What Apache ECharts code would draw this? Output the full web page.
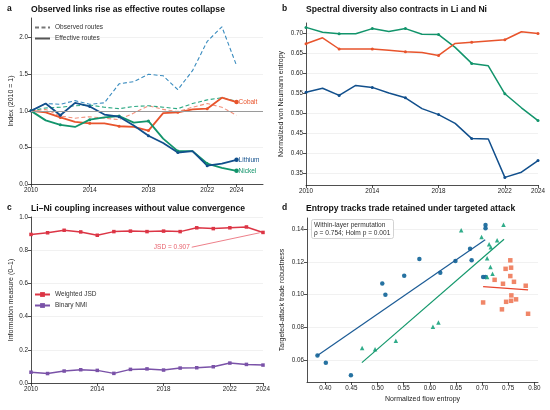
<!DOCTYPE html>
<html>
<head>
<meta charset="utf-8">
<script src="https://cdn.jsdelivr.net/npm/echarts@6/dist/echarts.min.js"></script>
<style>
  html, body { margin: 0; padding: 0; background: #fff; }
  #chart { width: 550px; height: 410px; }
</style>
</head>
<body>
<div id="chart"></div>
<script>
// years shared by panels a, b, c
const years = [2010, 2011, 2012, 2013, 2014, 2015, 2016, 2017, 2018, 2019, 2020, 2021, 2022, 2023, 2024];
const yearTicks = [2010, 2014, 2018, 2022, 2024];

// panel a: index (2010 = 1)
const obsLithium = [1.00, 1.10, 1.09, 1.14, 1.09, 1.11, 1.37, 1.40, 1.50, 1.48, 1.29, 1.55, 1.95, 2.15, 1.62];
const obsNickel  = [1.00, 1.04, 1.05, 1.07, 1.08, 1.05, 1.03, 1.06, 1.07, 1.05, 1.03, 1.10, 1.15, 1.18, 1.13];
const obsCobalt  = [1.00, 1.02, 0.93, 0.90, 0.92, 0.90, 0.88, 0.97, 1.07, 1.02, 0.99, 1.05, 1.10, 1.05, 0.94];
const effLithium = [1.00, 1.10, 0.94, 1.11, 1.06, 0.95, 0.92, 0.80, 0.66, 0.56, 0.43, 0.45, 0.25, 0.28, 0.33];
const effNickel  = [1.00, 0.87, 0.81, 0.78, 0.88, 0.91, 0.93, 0.84, 0.86, 0.62, 0.45, 0.45, 0.28, 0.22, 0.18];
const effCobalt  = [1.00, 0.98, 0.91, 0.85, 0.83, 0.83, 0.79, 0.78, 0.73, 0.97, 0.98, 1.02, 1.03, 1.18, 1.12];
const ticksA = [0, 0.5, 1.0, 1.5, 2.0];

// panel b: normalized von Neumann entropy
const vnLithium = [0.553, 0.563, 0.545, 0.570, 0.565, 0.551, 0.539, 0.512, 0.497, 0.475, 0.437, 0.436, 0.340, 0.353, 0.382];
const vnNickel  = [0.715, 0.703, 0.699, 0.699, 0.712, 0.705, 0.712, 0.698, 0.697, 0.665, 0.625, 0.619, 0.549, 0.514, 0.482];
const vnCobalt  = [0.674, 0.689, 0.661, 0.661, 0.661, 0.658, 0.654, 0.652, 0.645, 0.675, 0.678, 0.681, 0.684, 0.704, 0.700];
const ticksB = [0.35, 0.40, 0.45, 0.50, 0.55, 0.60, 0.65, 0.70];

// panel c: Li-Ni information measures
const jsd = [0.895, 0.905, 0.920, 0.910, 0.890, 0.912, 0.915, 0.912, 0.915, 0.912, 0.935, 0.930, 0.935, 0.940, 0.907];
const nmi = [0.065, 0.057, 0.072, 0.080, 0.076, 0.058, 0.082, 0.085, 0.078, 0.090, 0.092, 0.098, 0.120, 0.112, 0.108];
const ticksC = [0, 0.2, 0.4, 0.6, 0.8, 1.0];

// panel d: [flow entropy, targeted-attack robustness]
const scLithium = [[0.385, 0.0628], [0.401, 0.0584], [0.449, 0.0508], [0.509, 0.1068], [0.515, 0.0999],
  [0.551, 0.1115], [0.580, 0.1217], [0.620, 0.1133], [0.649, 0.1205], [0.677, 0.1280], [0.680, 0.1209],
  [0.702, 0.1107], [0.7066, 0.1107], [0.7066, 0.1424], [0.7066, 0.1404]];
const scNickel = [[0.4705, 0.0675], [0.4952, 0.0667], [0.535, 0.0718], [0.606, 0.0804], [0.6165, 0.0830],
  [0.660, 0.1392], [0.699, 0.1351], [0.7135, 0.1307], [0.7167, 0.1288], [0.7288, 0.1331], [0.741, 0.1426],
  [0.7097, 0.1221], [0.716, 0.1168], [0.720, 0.1127], [0.7097, 0.1107]];
const scCobalt = [[0.754, 0.1209], [0.745, 0.1157], [0.7555, 0.1164], [0.754, 0.1113], [0.724, 0.1090],
  [0.740, 0.1066], [0.761, 0.1078], [0.7835, 0.1054], [0.756, 0.0995], [0.7555, 0.0962], [0.765, 0.0971],
  [0.746, 0.0956], [0.702, 0.0952], [0.738, 0.0910], [0.788, 0.0883]];
// fitted trend lines, end points
const trendLithium = [[0.385, 0.0628], [0.706, 0.1335]];
const trendNickel  = [[0.470, 0.0585], [0.742, 0.1337]];
const trendCobalt  = [[0.702, 0.1048], [0.788, 0.1029]];
const ticksDx = [0.40, 0.45, 0.50, 0.55, 0.60, 0.65, 0.70, 0.75, 0.80];
const ticksDy = [0.06, 0.08, 0.10, 0.12, 0.14];

const C = {
  li: '#114f8c', liObs: '#3a8cbf',
  ni: '#12946b', niObs: '#2aa882',
  co: '#e8542c', coObs: '#f2917c',
  jsd: '#dc3545', nmi: '#7a52a8',
  dLi: '#1a6a9c', dNi: '#25a884', dCo: '#ef8060'
};
const FONT = 'Liberation Sans, Arial, sans-serif';

const pair = (vals) => years.map((y, i) => [y, vals[i]]);

function xAxisYears(gridIndex, max) {
  return {
    type: 'value', gridIndex, min: 2010, max,
    axisLine: { show: true, lineStyle: { color: '#222', width: 0.8 } },
    axisTick: { show: true, length: 3, customValues: yearTicks, lineStyle: { color: '#222', width: 0.8 } },
    axisLabel: { customValues: yearTicks, fontSize: 6.3, color: '#222', margin: 3, fontFamily: FONT,
      formatter: v => String(v) },
    splitLine: { show: false }
  };
}

function yAxisVal(gridIndex, min, max, ticks, digits, name, nameGap) {
  return {
    type: 'value', gridIndex, min, max,
    name, nameLocation: 'middle', nameGap,
    nameTextStyle: { fontSize: 7, color: '#222', fontFamily: FONT },
    axisLine: { show: true, lineStyle: { color: '#222', width: 0.8 } },
    axisTick: { show: true, length: 3, customValues: ticks, lineStyle: { color: '#222', width: 0.8 } },
    axisLabel: { customValues: ticks, fontSize: 6.3, color: '#222', margin: 3, fontFamily: FONT,
      formatter: v => v.toFixed(digits) },
    splitLine: { show: true, lineStyle: { color: '#eeeeee', width: 0.8 } }
  };
}

const evenMarker = (big) => (val, p) => p.dataIndex === years.length - 1 ? big : (p.dataIndex % 2 === 0 ? 3 : 0);

function effLine(name, vals, color, label) {
  return {
    name, type: 'line', xAxisIndex: 0, yAxisIndex: 0, data: pair(vals),
    symbol: 'circle', symbolSize: evenMarker(4.5), showSymbol: true,
    lineStyle: { color, width: 1.8 }, itemStyle: { color },
    endLabel: { show: true, formatter: label, color, fontSize: 6.5, distance: 2, fontFamily: FONT },
    z: 4, silent: true, animation: false
  };
}
function obsLine(name, vals, color) {
  return {
    name, type: 'line', xAxisIndex: 0, yAxisIndex: 0, data: pair(vals),
    symbol: 'none', lineStyle: { color, width: 1.1, type: [4, 2.5] }, itemStyle: { color },
    z: 3, silent: true, animation: false
  };
}
function vnLine(vals, color) {
  return {
    type: 'line', xAxisIndex: 1, yAxisIndex: 1, data: pair(vals),
    symbol: 'circle', symbolSize: evenMarker(3), showSymbol: true,
    lineStyle: { color, width: 1.5 }, itemStyle: { color }, silent: true, animation: false
  };
}
function infoLine(name, vals, color, extra) {
  return Object.assign({
    name, type: 'line', xAxisIndex: 2, yAxisIndex: 2, data: pair(vals),
    symbol: 'rect', symbolSize: 3.5,
    lineStyle: { color, width: 1.5 }, itemStyle: { color }, silent: true, animation: false
  }, extra || {});
}
function scatter(pts, symbol, color) {
  return {
    type: 'scatter', xAxisIndex: 3, yAxisIndex: 3, data: pts, symbol, symbolSize: 4.5,
    itemStyle: { color, opacity: 0.95 }, silent: true, animation: false, z: 3
  };
}
function trendLine(pts, color) {
  return {
    type: 'line', xAxisIndex: 3, yAxisIndex: 3, data: pts, symbol: 'none',
    lineStyle: { color, width: 1.2 }, silent: true, animation: false, z: 4
  };
}

const titleStyle = { fontSize: 8.6, fontWeight: 'bold', color: '#111', fontFamily: FONT };
const letterStyle = { fontSize: 8.5, fontWeight: 'bold', color: '#111', fontFamily: FONT };

const option = {
  backgroundColor: '#fff',
  animation: false,
  title: [
    { text: 'a', left: 7, top: 4, padding: 0, textStyle: letterStyle },
    { text: 'Observed links rise as effective routes collapse', left: 31, top: 5, padding: 0, textStyle: titleStyle },
    { text: 'b', left: 282, top: 4, padding: 0, textStyle: letterStyle },
    { text: 'Spectral diversity also contracts in Li and Ni', left: 306, top: 5, padding: 0, textStyle: titleStyle },
    { text: 'c', left: 7, top: 203, padding: 0, textStyle: letterStyle },
    { text: 'Li–Ni coupling increases without value convergence', left: 31, top: 204, padding: 0, textStyle: titleStyle },
    { text: 'd', left: 282, top: 203, padding: 0, textStyle: letterStyle },
    { text: 'Entropy tracks trade retained under targeted attack', left: 306, top: 204, padding: 0, textStyle: titleStyle },
    { text: 'Within-layer permutation\nρ = 0.754; Holm p = 0.001', left: 311, top: 219,
      padding: [2, 3], borderColor: '#c8c8c8', borderWidth: 0.8, borderRadius: 2, backgroundColor: '#fff',
      textStyle: { fontSize: 6.6, fontWeight: 'normal', color: '#333', lineHeight: 7.8, fontFamily: FONT } }
  ],
  legend: [
    {
      data: ['Observed routes', 'Effective routes'], left: 34, top: 24, orient: 'vertical',
      itemWidth: 15, itemHeight: 6, itemGap: 4, padding: 0,
      itemStyle: { opacity: 0 },
      textStyle: { fontSize: 6.5, color: '#333', fontFamily: FONT }
    },
    {
      data: ['Weighted JSD', 'Binary NMI'], left: 34, top: 291, orient: 'vertical',
      itemWidth: 15, itemHeight: 6, itemGap: 4, padding: 0,
      textStyle: { fontSize: 6.5, color: '#333', fontFamily: FONT }
    }
  ],
  grid: [
    { left: 31, top: 18, width: 232, height: 166 },
    { left: 306, top: 23, width: 232, height: 162 },
    { left: 31, top: 217, width: 232, height: 166 },
    { left: 307, top: 218, width: 231, height: 164 }
  ],
  xAxis: [
    xAxisYears(0, 2025.8),
    xAxisYears(1, 2024),
    xAxisYears(2, 2024),
    {
      type: 'value', gridIndex: 3, min: 0.365, max: 0.807,
      name: 'Normalized flow entropy', nameLocation: 'middle', nameGap: 14,
      nameTextStyle: { fontSize: 7, color: '#222', fontFamily: FONT },
      axisLine: { show: true, lineStyle: { color: '#222', width: 0.8 } },
      axisTick: { show: true, length: 3, customValues: ticksDx, lineStyle: { color: '#222', width: 0.8 } },
      axisLabel: { customValues: ticksDx, fontSize: 6.3, color: '#222', margin: 3, fontFamily: FONT,
        formatter: v => v.toFixed(2) },
      splitLine: { show: false }
    }
  ],
  yAxis: [
    yAxisVal(0, 0, 2.27, ticksA, 1, 'Index (2010 = 1)', 16),
    yAxisVal(1, 0.321, 0.726, ticksB, 2, 'Normalized von Neumann entropy', 21),
    yAxisVal(2, 0, 1.0, ticksC, 1, 'Information measure (0–1)', 16),
    yAxisVal(3, 0.0467, 0.1467, ticksDy, 2, 'Targeted-attack trade robustness', 21)
  ],
  series: [
    // legend keys for panel a
    { name: 'Observed routes', type: 'line', xAxisIndex: 0, yAxisIndex: 0, data: [], symbol: 'none',
      lineStyle: { color: '#777', width: 1.1, type: [4, 2.5] }, itemStyle: { color: '#777' } },
    { name: 'Effective routes', type: 'line', xAxisIndex: 0, yAxisIndex: 0, data: [], symbol: 'none',
      lineStyle: { color: '#555', width: 1.8 }, itemStyle: { color: '#555' } },
    Object.assign(obsLine('obsCo', obsCobalt, C.coObs), {
      markLine: {
        silent: true, symbol: 'none', label: { show: false },
        lineStyle: { color: '#9a9a9a', width: 1, type: 'solid' },
        data: [{ yAxis: 1 }]
      }
    }),
    obsLine('obsNi', obsNickel, C.niObs),
    obsLine('obsLi', obsLithium, C.liObs),
    effLine('effCo', effCobalt, C.co, 'Cobalt'),
    effLine('effNi', effNickel, C.ni, 'Nickel'),
    effLine('effLi', effLithium, C.li, 'Lithium'),

    vnLine(vnNickel, C.ni),
    vnLine(vnCobalt, C.co),
    vnLine(vnLithium, C.li),

    infoLine('Weighted JSD', jsd, C.jsd, {
      markLine: {
        silent: true, symbol: ['none', 'none'],
        lineStyle: { color: '#e8606c', width: 0.8, type: 'solid' },
        label: { show: true, position: 'start', formatter: 'JSD = 0.907', color: '#e8606c',
          fontSize: 6.5, fontFamily: FONT, distance: 2 },
        data: [[{ coord: [2019.7, 0.818] }, { coord: [2023.8, 0.905] }]]
      }
    }),
    infoLine('Binary NMI', nmi, C.nmi),

    scatter(scLithium, 'circle', C.dLi),
    scatter(scNickel, 'triangle', C.dNi),
    scatter(scCobalt, 'rect', C.dCo),
    trendLine(trendLithium, '#1b5b95'),
    trendLine(trendNickel, '#14986c'),
    trendLine(trendCobalt, '#e8452e')
  ]
};

echarts.init(document.getElementById('chart'), null, { renderer: 'canvas' }).setOption(option);
</script>
</body>
</html>
